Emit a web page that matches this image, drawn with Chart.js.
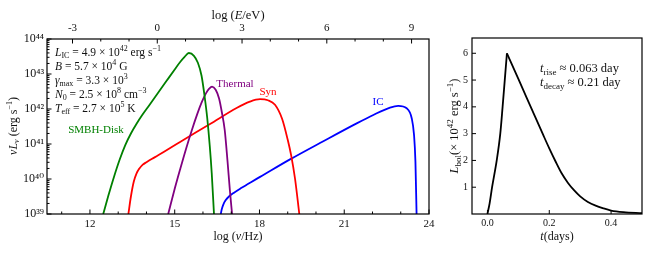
<!DOCTYPE html>
<html lang="en">
<head>
<meta charset="UTF-8">
<title>SED and light curve</title>
<script src="https://cdn.jsdelivr.net/npm/chart.js"></script>
<style>
  body { margin: 0; background: #fff; }
  #wrap { position: relative; width: 653px; height: 256px; }
  canvas { position: absolute; top: 0; }
</style>
</head>
<body>
<div id="wrap">
  <canvas id="sed" width="440" height="256" style="left:0"></canvas>
  <canvas id="lc" width="213" height="256" style="left:440px"></canvas>
</div>
<script>
// SED components: log10(nu / Hz) and log10(nu L_nu / erg s^-1)
const diskLogNu = [12.47, 12.65, 12.85, 13.05, 13.25, 13.45, 13.65, 13.85, 14.10, 14.40, 14.70, 15.00, 15.20, 15.35, 15.50, 15.68, 15.82, 15.95, 16.06, 16.15, 16.24, 16.31, 16.39];
const diskLogL  = [39.00, 39.52, 40.06, 40.55, 40.97, 41.30, 41.58, 41.83, 42.11, 42.45, 42.79, 43.13, 43.35, 43.49, 43.60, 43.52, 43.32, 42.95, 42.35, 41.75, 40.95, 40.17, 39.00];

const thermLogNu = [14.77, 15.00, 15.20, 15.40, 15.60, 15.80, 15.95, 16.10, 16.22, 16.32, 16.45, 16.57, 16.67, 16.77, 16.87, 16.95, 17.03];
const thermLogL  = [39.00, 39.72, 40.30, 40.86, 41.38, 41.86, 42.18, 42.44, 42.58, 42.64, 42.55, 42.30, 41.90, 41.40, 40.50, 39.70, 39.00];

const synLogNu = [13.36, 13.45, 13.55, 13.65, 13.75, 13.87, 14.00, 14.20, 14.40, 15.19, 16.25, 17.19, 17.66, 18.02, 18.30, 18.55, 18.80, 19.00, 19.12, 19.26, 19.41];
const synLogL  = [39.00, 39.50, 39.92, 40.16, 40.30, 40.41, 40.48, 40.58, 40.67, 41.06, 41.57, 42.03, 42.21, 42.28, 42.25, 42.12, 41.72, 41.12, 40.68, 40.00, 39.00];

const icLogNu = [16.63, 16.67, 16.72, 16.80, 16.92, 17.10, 17.35, 17.70, 18.02, 19.08, 20.26, 21.44, 22.03, 22.62, 22.91, 23.21, 23.39, 23.47, 23.52, 23.56];
const icLogL  = [39.00, 39.15, 39.27, 39.39, 39.50, 39.61, 39.74, 39.91, 40.06, 40.56, 41.08, 41.59, 41.83, 42.04, 42.09, 42.02, 41.73, 41.26, 40.49, 39.00];

// light curve, t in days, L_bol in 1e42 erg/s
const riseT = [0.000, 0.007, 0.015, 0.030, 0.0415, 0.049, 0.056, 0.063];
const riseL = [0.00, 0.40, 1.00, 2.00, 3.00, 4.00, 5.00, 6.00];
const decayT = [0.063, 0.100, 0.140, 0.180, 0.200, 0.220, 0.240, 0.260, 0.280, 0.300, 0.325, 0.350, 0.375, 0.400, 0.440, 0.500];
const decayL = [6.00, 5.04, 4.00, 2.96, 2.45, 1.97, 1.52, 1.17, 0.89, 0.66, 0.45, 0.31, 0.21, 0.13, 0.07, 0.03];

// ticks
const nuTicks = [11, 12, 13, 14, 15, 16, 17, 18, 19, 20, 21, 22, 23, 24];
const eTicks = [-3, -2, -1, 0, 1, 2, 3, 4, 5, 6, 7, 8, 9];
const lumDecades = [39, 40, 41, 42, 43, 44];
const tTicks = [0, 0.2, 0.4];
const lbolTicks = [1, 2, 3, 4, 5, 6];

const LOG_NU_PER_EV = 14.383;   // log10(nu/Hz) - log10(E/eV)

// texts
const paramLines = [
  '*L*_{IC} = 4.9 × 10^{42} erg s^{−1}',
  '*B* = 5.7 × 10^{4} G',
  '*γ*_{max} = 3.3 × 10^{3}',
  '*N*_{0} = 2.5 × 10^{8} cm^{−3}',
  '*T*_{eff} = 2.7 × 10^{5} K'
];
const compLabels = ['SMBH-Disk', 'Thermal', 'Syn', 'IC'];
const compColors = ['#008000', '#800080', '#ff0000', '#0000ff'];

const FONT = '"Liberation Serif", "DejaVu Serif", serif';
const SUP = '⁰¹²³⁴⁵⁶⁷⁸⁹';
const sup = n => String(n).split('').map(d => SUP[+d]).join('');

// tiny markup: *..* italic, _{..} subscript, ^{..} superscript
function parseRich(str) {
  const segs = [];
  let it = false, mode = 'n', buf = '';
  const push = () => { if (buf) { segs.push({ t: buf, it, mode }); buf = ''; } };
  for (let i = 0; i < str.length; i++) {
    const c = str[i];
    if (c === '*') { push(); it = !it; }
    else if ((c === '_' || c === '^') && str[i + 1] === '{') { push(); mode = c === '_' ? 'sub' : 'sup'; i++; }
    else if (c === '}' && mode !== 'n') { push(); mode = 'n'; }
    else buf += c;
  }
  push();
  return segs;
}

function drawRich(ctx, t) {
  const segs = parseRich(t.s);
  const size = t.size || 11;
  const fontOf = sg => (sg.it ? 'italic ' : '') + (sg.mode === 'n' ? size : Math.round(size * 0.7)) + 'px ' + FONT;
  let w = 0;
  segs.forEach(sg => { ctx.font = fontOf(sg); sg.w = ctx.measureText(sg.t).width; w += sg.w; });
  ctx.save();
  ctx.translate(t.x, t.y);
  if (t.rot) ctx.rotate(t.rot);
  ctx.fillStyle = t.color || '#111';
  ctx.textBaseline = 'middle';
  ctx.textAlign = 'left';
  let x = t.align === 'center' ? -w / 2 : 0;
  segs.forEach(sg => {
    ctx.font = fontOf(sg);
    const dy = sg.mode === 'sub' ? size * 0.28 : sg.mode === 'sup' ? -size * 0.38 : 0;
    ctx.fillText(sg.t, x, dy);
    x += sg.w;
  });
  ctx.restore();
}

// frame, inward ticks and the texts
function makeDecor(texts, majorLen, minorLen) {
  return {
    id: 'decor',
    afterDraw(chart) {
      const { ctx, chartArea: a } = chart;
      ctx.save();
      ctx.strokeStyle = '#000';
      ctx.lineWidth = 1;
      Object.values(chart.scales).forEach(s => {
        s.ticks.forEach(tk => {
          const len = tk.label !== '' ? majorLen : minorLen;
          const p = s.getPixelForValue(tk.value);
          ctx.beginPath();
          if (s.isHorizontal()) {
            if (p < a.left - 0.5 || p > a.right + 0.5) return;
            const y0 = s.position === 'top' ? a.top : a.bottom;
            const dir = s.position === 'top' ? 1 : -1;
            ctx.moveTo(p, y0); ctx.lineTo(p, y0 + dir * len);
          } else {
            if (p < a.top - 0.5 || p > a.bottom + 0.5) return;
            ctx.moveTo(a.left, p); ctx.lineTo(a.left + len, p);
          }
          ctx.stroke();
        });
      });
      ctx.lineWidth = 1.2;
      ctx.strokeRect(a.left, a.top, a.right - a.left, a.bottom - a.top);
      ctx.restore();
      texts.forEach(t => drawRich(ctx, t));
    }
  };
}

const tickFont = size => ({ family: FONT, size });
const noGrid = { display: false, drawTicks: false };

// ---- SED panel ----
const sedTexts = paramLines.map((s, i) => ({ s, x: 55, y: 53 + i * 14, size: 11.5 }));
sedTexts.push(
  { s: compLabels[0], x: 96, y: 130, align: 'center', color: compColors[0], size: 11 },
  { s: compLabels[1], x: 235, y: 84, align: 'center', color: compColors[1], size: 11 },
  { s: compLabels[2], x: 268, y: 92, align: 'center', color: compColors[2], size: 11 },
  { s: compLabels[3], x: 378, y: 102, align: 'center', color: compColors[3], size: 11 },
  { s: 'log (*ν*/Hz)', x: 238, y: 237, align: 'center', size: 12 },
  { s: 'log (*E*/eV)', x: 238, y: 16, align: 'center', size: 12.5 },
  { s: '*νL*_{*ν*} (erg s^{−1})', x: 14, y: 126, align: 'center', rot: -Math.PI / 2, size: 12 }
);

const series = [
  [diskLogNu, diskLogL], [thermLogNu, thermLogL], [synLogNu, synLogL], [icLogNu, icLogL]
];

new Chart(document.getElementById('sed'), {
  type: 'line',
  data: {
    datasets: series.map(([nu, L], i) => ({
      label: compLabels[i],
      data: nu.map((v, j) => ({ x: v, y: Math.pow(10, L[j]) })),
      borderColor: compColors[i],
      borderWidth: 1.8,
      pointRadius: 0,
      fill: false,
      cubicInterpolationMode: 'monotone'
    }))
  },
  options: {
    responsive: false,
    animation: false,
    layout: { padding: { left: 0, right: 11, top: 0, bottom: 0 } },
    plugins: { legend: { display: false }, tooltip: { enabled: false } },
    scales: {
      x: {
        type: 'linear', position: 'bottom', min: 10.48, max: 24,
        afterBuildTicks: s => { s.ticks = nuTicks.map(v => ({ value: v })); },
        afterFit: s => { s.height = 42; },
        ticks: { autoSkip: false, maxRotation: 0, padding: 4, color: '#111', font: tickFont(11),
                 callback: v => (v % 3 === 0 ? String(v) : '') },
        grid: noGrid, border: { display: false }
      },
      xTop: {
        type: 'linear', position: 'top', min: 10.48 - LOG_NU_PER_EV, max: 24 - LOG_NU_PER_EV,
        afterBuildTicks: s => { s.ticks = eTicks.map(v => ({ value: v })); },
        afterFit: s => { s.height = 39; },
        ticks: { autoSkip: false, maxRotation: 0, padding: 4, color: '#111', font: tickFont(11),
                 callback: v => (v % 3 === 0 ? String(v) : '') },
        grid: noGrid, border: { display: false }
      },
      y: {
        type: 'logarithmic', min: 1e39, max: 1e44,
        afterBuildTicks: s => {
          const t = [];
          lumDecades.forEach(e => {
            for (let m = 1; m < 10; m++) {
              if (m > 1 && e === 44) break;
              t.push({ value: m * Math.pow(10, e) });
            }
          });
          s.ticks = t;
        },
        afterFit: s => { s.width = 47; },
        ticks: { autoSkip: false, padding: 3, color: '#111', font: tickFont(12),
                 callback: v => {
                   const e = Math.round(Math.log10(v));
                   return Math.abs(v / Math.pow(10, e) - 1) < 1e-6 ? '10' + sup(e) : '';
                 } },
        grid: noGrid, border: { display: false }
      }
    }
  },
  plugins: [makeDecor(sedTexts, 4.5, 2.5)]
});

// ---- light curve panel ----
const lcTexts = [
  { s: '*t*_{rise} ≈ 0.063 day', x: 100, y: 69, size: 12.5 },
  { s: '*t*_{decay} ≈ 0.21 day', x: 100, y: 83, size: 12.5 },
  { s: '*t*(days)', x: 117, y: 237, align: 'center', size: 12 },
  { s: '*L*_{bol}(× 10^{42} erg s^{−1})', x: 15, y: 126, align: 'center', rot: -Math.PI / 2, size: 12.5 }
];

new Chart(document.getElementById('lc'), {
  type: 'line',
  data: {
    datasets: [[riseT, riseL], [decayT, decayL]].map(([t, L]) => ({
      data: t.map((v, j) => ({ x: v, y: L[j] })),
      borderColor: '#000',
      borderWidth: 1.8,
      pointRadius: 0,
      fill: false,
      cubicInterpolationMode: 'monotone'
    }))
  },
  options: {
    responsive: false,
    animation: false,
    layout: { padding: { left: 0, right: 11, top: 38, bottom: 0 } },
    plugins: { legend: { display: false }, tooltip: { enabled: false } },
    scales: {
      x: {
        type: 'linear', min: -0.05, max: 0.5,
        afterBuildTicks: s => { s.ticks = tTicks.map(v => ({ value: v })); },
        afterFit: s => { s.height = 42; },
        ticks: { autoSkip: false, maxRotation: 0, padding: 3, color: '#111', font: tickFont(10),
                 callback: v => v.toFixed(1) },
        grid: noGrid, border: { display: false }
      },
      y: {
        type: 'linear', min: 0, max: 6.57,
        afterBuildTicks: s => { s.ticks = lbolTicks.map(v => ({ value: v })); },
        afterFit: s => { s.width = 32; },
        ticks: { autoSkip: false, padding: 4, color: '#111', font: tickFont(10),
                 callback: v => String(v) },
        grid: noGrid, border: { display: false }
      }
    }
  },
  plugins: [makeDecor(lcTexts, 4, 2)]
});
</script>
</body>
</html>
